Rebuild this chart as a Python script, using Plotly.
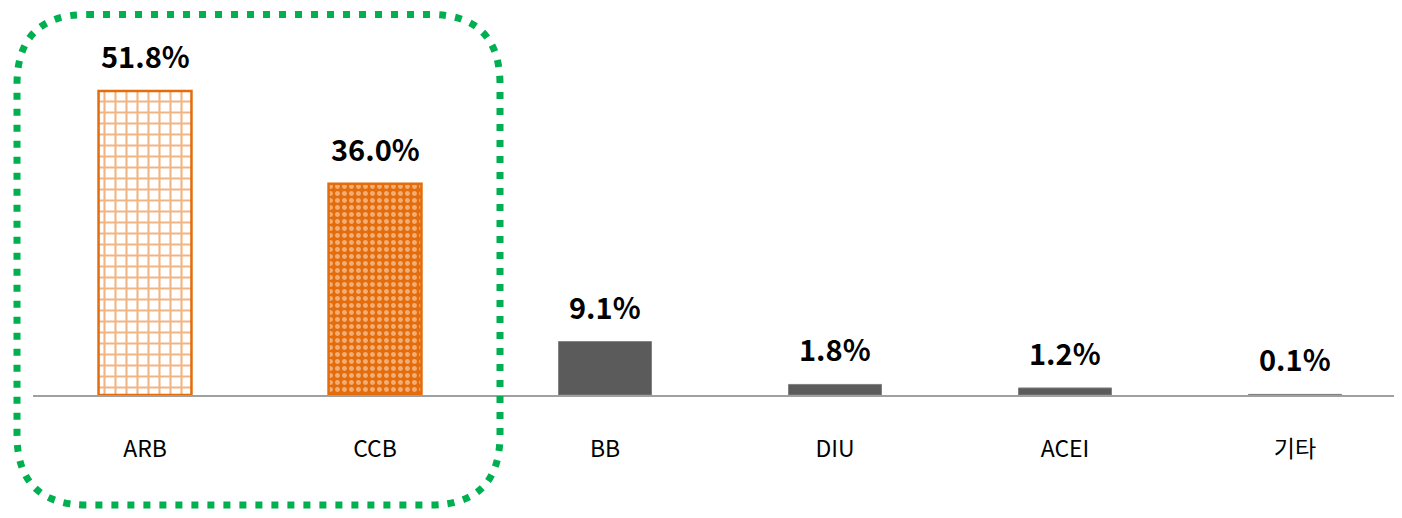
import plotly.graph_objects as go

categories = ["ARB", "CCB", "BB", "DIU", "ACEI", "기타"]
shares = [51.8, 36.0, 9.1, 1.8, 1.2, 0.1]
labels = ["51.8%", "36.0%", "9.1%", "1.8%", "1.2%", "0.1%"]

# page has an 8px body margin, so the figure sits at (8, 8)
OFF = 8
W, H = 1402 - 2 * OFF, 518 - 2 * OFF
ORANGE = "#E46C0A"
DARK = "#5B5B5B"
FONT = "Noto Sans CJK KR"

fig = go.Figure()

# highlighted classes get a pattern fill, the rest plain dark grey
fig.add_trace(go.Bar(
    x=categories[:1], y=shares[:1], width=0.404,
    marker=dict(color="white", line=dict(color=ORANGE, width=2.5),
                pattern=dict(shape="+", fgcolor=ORANGE, bgcolor="white", size=11, solidity=0.35)),
))
fig.add_trace(go.Bar(
    x=categories[1:2], y=shares[1:2], width=0.404,
    marker=dict(color=ORANGE, line=dict(color=ORANGE, width=2.5),
                pattern=dict(shape=".", fgcolor="#FDEFE3", bgcolor=ORANGE, size=7, solidity=0.4)),
))
fig.add_trace(go.Bar(
    x=categories[2:], y=shares[2:], width=0.404,
    marker=dict(color=DARK, line=dict(color="#7F7F7F", width=1)),
))

for c, v, t in zip(categories, shares, labels):
    fig.add_annotation(x=c, y=v, text=f"<b>{t}</b>", showarrow=False,
                       yanchor="middle", yshift=36,
                       font=dict(family=FONT, size=29, color="black"))


def px_x(p):
    return (p - OFF) / W


def px_y(p):
    return 1 - (p - OFF) / H


# green dotted rounded box around ARB / CCB
x0, x1, y0, y1, r = 17, 500, 14.5, 505, 70
path = (
    f"M {px_x(x0 + r)},{px_y(y0)} L {px_x(x1 - r)},{px_y(y0)} "
    f"Q {px_x(x1)},{px_y(y0)} {px_x(x1)},{px_y(y0 + r)} "
    f"L {px_x(x1)},{px_y(y1 - r)} "
    f"Q {px_x(x1)},{px_y(y1)} {px_x(x1 - r)},{px_y(y1)} "
    f"L {px_x(x0 + r)},{px_y(y1)} "
    f"Q {px_x(x0)},{px_y(y1)} {px_x(x0)},{px_y(y1 - r)} "
    f"L {px_x(x0)},{px_y(y0 + r)} "
    f"Q {px_x(x0)},{px_y(y0)} {px_x(x0 + r)},{px_y(y0)} Z"
)
fig.add_shape(type="path", path=path, xref="paper", yref="paper",
              line=dict(color="#00B050", width=7, dash="7px,9px"))

fig.update_layout(
    width=W, height=H,
    margin=dict(l=0, r=0, t=0, b=0),
    paper_bgcolor="white", plot_bgcolor="white",
    showlegend=False,
    xaxis=dict(domain=[px_x(33), 1], range=[-0.487, (1394 - 145) / 230],
               showline=True, linecolor="#A0A0A0", linewidth=2,
               showgrid=False, ticks="", ticklabelstandoff=32,
               tickfont=dict(family=FONT, size=23, color="black")),
    yaxis=dict(domain=[px_y(395), 1], range=[0, (395 - OFF) / 5.87],
               visible=False, showgrid=False, zeroline=False),
)

fig.write_html("out.html")
